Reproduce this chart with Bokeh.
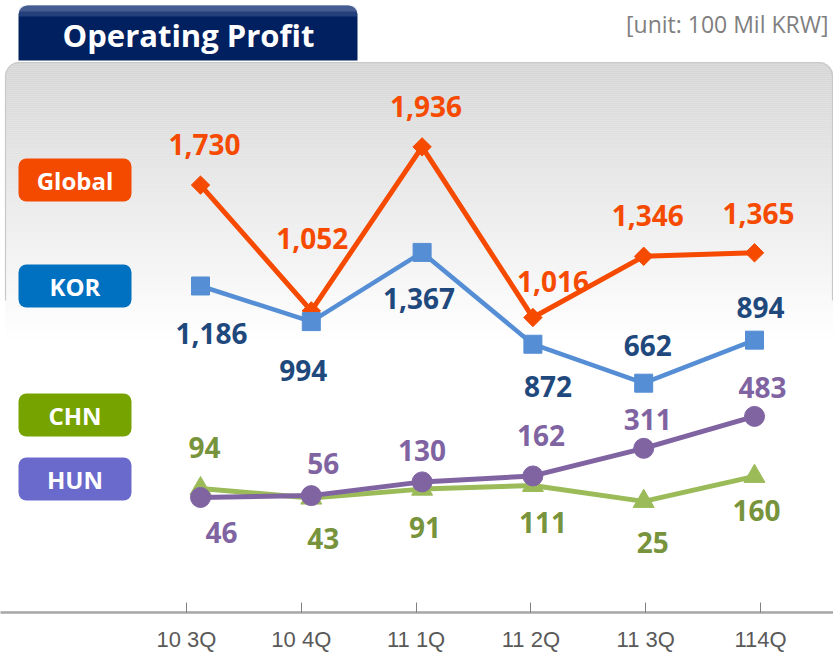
import numpy as np
from bokeh.plotting import figure
from bokeh.models import Range1d, LinearAxis, FixedTicker, BoxAnnotation, Label, ColumnDataSource
from bokeh.core.properties import value
from bokeh.embed import file_html
from bokeh.resources import INLINE

# ---------------- data ----------------
quarters = ["10 3Q", "10 4Q", "11 1Q", "11 2Q", "11 3Q", "114Q"]
global_profit = [1730, 1052, 1936, 1016, 1346, 1365]
kor_profit = [1186, 994, 1367, 872, 662, 894]
chn_profit = [94, 43, 91, 111, 25, 160]
hun_profit = [46, 56, 130, 162, 311, 483]
series_names = ["Global", "KOR", "CHN", "HUN"]

# label placement offsets in pixels (dx, dy; dy positive = down)
global_dx = [4, 1, 4, 20, 4, 4]
global_dy = [-41, -72, -40, -36, -41, -39]
kor_dx = [11, -8, -3, 15, 4, 6]
kor_dy = [48, 49, 46, 42, -38, -33]
chn_dx = [4, 12, 3, 10, 9, 2]
chn_dy = [-41, 40, 38, 37, 41, 34]
hun_dx = [21, 12, 0, 8, 4, 8]
hun_dy = [35, -32, -31, -40, -29, -29]

# ---------------- geometry ----------------
FW, FH = 833, 612
DATA_X0 = 200
DATA_DX = 110.8
AXIS_X0 = 186
AXIS_DX = 114.8
ZERO_Y = 505.5
PX_PER_UNIT = 0.1855

x_rng = Range1d(-DATA_X0 / DATA_DX, (FW - DATA_X0) / DATA_DX)
y_rng = Range1d((ZERO_Y - FH) / PX_PER_UNIT, ZERO_Y / PX_PER_UNIT)


def X(px):
    return x_rng.start + px / DATA_DX


def Y(py):
    return (ZERO_Y - py) / PX_PER_UNIT


p = figure(frame_width=FW, frame_height=FH, x_range=x_rng, y_range=y_rng,
           output_backend="svg", toolbar_location=None,
           x_axis_location=None, y_axis_location=None,
           min_border=0, min_border_left=0, min_border_right=0,
           min_border_top=0, min_border_bottom=0,
           background_fill_color="white", border_fill_color="white",
           outline_line_color=None)
p.grid.visible = False

# ---------------- gradient panel ----------------
top_px, bot_px, rad = 62, 340, 14
L, R, T, B, C = [], [], [], [], []
for yy in range(top_px, bot_px, 2):
    t = (yy - top_px) / (bot_px - top_px)
    c = int(round(214 + (255 - 214) * t))
    d = yy + 1 - top_px
    inset = rad - np.sqrt(max(rad * rad - (rad - d) ** 2, 0)) if d < rad else 0
    L.append(X(5 + inset)); R.append(X(833 - inset))
    T.append(Y(yy)); B.append(Y(yy + 2.2))
    C.append("#%02x%02x%02x" % (c, c, c))
p.quad(left=L, right=R, top=T, bottom=B, fill_color=C, line_color=None)

# panel outline (top edge with rounded corners)
ang = np.linspace(np.pi, np.pi / 2, 10)
ox = [5, 5] + list(5 + rad + rad * np.cos(ang))
oy = [300, 62 + rad] + list(62 + rad - rad * np.sin(ang))
ang2 = np.linspace(np.pi / 2, 0, 10)
ox += list(832 - rad + rad * np.cos(ang2)) + [832, 832]
oy += list(62 + rad - rad * np.sin(ang2)) + [62 + rad, 300]
p.line([X(v) for v in ox], [Y(v) for v in oy], line_color="#c8c8c8", line_width=1.2)

# ---------------- title tab ----------------
p.add_layout(BoxAnnotation(left=X(18), right=X(357), top=Y(5), bottom=Y(60),
                           fill_color="#002060", fill_alpha=1, line_color=None,
                           border_radius=(9, 9, 0, 0)))
p.add_layout(BoxAnnotation(left=X(18), right=X(357), top=Y(5), bottom=Y(16),
                           fill_color="#8fa0c8", fill_alpha=0.25, line_color=None,
                           border_radius=(9, 9, 0, 0)))
p.add_layout(BoxAnnotation(left=X(18), right=X(357), top=Y(5), bottom=Y(11),
                           fill_color="#8fa0c8", fill_alpha=0.3, line_color=None,
                           border_radius=(9, 9, 0, 0)))
p.add_layout(Label(x=X(188), y=Y(34), text="Operating Profit", text_align="center",
                   text_baseline="middle", text_color="white", text_font="Open Sans",
                   text_font_style="bold", text_font_size="31px"))

p.add_layout(Label(x=X(828), y=Y(23), text="[unit: 100 Mil KRW]", text_align="right",
                   text_baseline="middle", text_color="#7f7f7f", text_font="Open Sans",
                   text_font_size="23px"))

# ---------------- legend boxes ----------------
legend_fill = ["#f34a00", "#0070c0", "#76a300", "#6a6acc"]
legend_top = [158, 264, 393, 457]
for name, col, tp in zip(series_names, legend_fill, legend_top):
    p.add_layout(BoxAnnotation(left=X(18), right=X(131), top=Y(tp), bottom=Y(tp + 43),
                               fill_color=col, fill_alpha=1, line_color=None,
                               border_radius=8))
    p.add_layout(Label(x=X(74.5), y=Y(tp + 22), text=name, text_align="center",
                       text_baseline="middle", text_color="white", text_font="Open Sans",
                       text_font_style="bold", text_font_size="24px"))

# ---------------- series ----------------
xs = list(range(len(quarters)))
series = [
    (global_profit, "#f54a00", "#f54a00", dict(marker="square", angle=np.pi / 4, size=13), 5, global_dx, global_dy),
    (kor_profit, "#558ed5", "#1f497d", dict(marker="square", size=18), 4.5, kor_dx, kor_dy),
    (chn_profit, "#9bbb59", "#77933c", dict(marker="triangle", size=21), 5, chn_dx, chn_dy),
    (hun_profit, "#8064a2", "#8064a2", dict(marker="circle", size=20), 5, hun_dx, hun_dy),
]
for vals, lc, tc, mk, lw, dx, dy in series:
    src = ColumnDataSource(dict(x=xs, y=vals))
    p.line("x", "y", source=src, line_color=lc, line_width=lw)
    p.scatter("x", "y", source=src, fill_color=lc, line_color=lc, **mk)

for vals, lc, tc, mk, lw, dx, dy in series:
    src = ColumnDataSource(dict(x=xs, y=vals, lab=[f"{v:,}" for v in vals], dx=dx, dy=dy))
    p.text("x", "y", text="lab", source=src, x_offset="dx", y_offset="dy",
           text_align="center", text_baseline="middle", text_color=tc,
           text_font=value("Open Sans"), text_font_style="bold", text_font_size="28px")

# ---------------- x axis ----------------
p.extra_x_ranges = {"axis": Range1d(-AXIS_X0 / AXIS_DX, (FW - AXIS_X0) / AXIS_DX)}
ax = LinearAxis(x_range_name="axis", ticker=FixedTicker(ticks=xs, minor_ticks=[]),
                major_label_overrides={i: q for i, q in enumerate(quarters)})
ax.axis_line_color = "#a6a6a6"
ax.axis_line_width = 2.5
ax.major_tick_in = 10
ax.major_tick_out = 0
ax.major_tick_line_color = "#808080"
ax.major_tick_line_width = 1
ax.minor_tick_line_color = None
ax.major_label_text_font = "Liberation Sans"
ax.major_label_text_font_size = "22px"
ax.major_label_text_color = "#595959"
ax.major_label_standoff = 14
p.add_layout(ax, "below")

open("out.html", "w").write(file_html(p, INLINE))
